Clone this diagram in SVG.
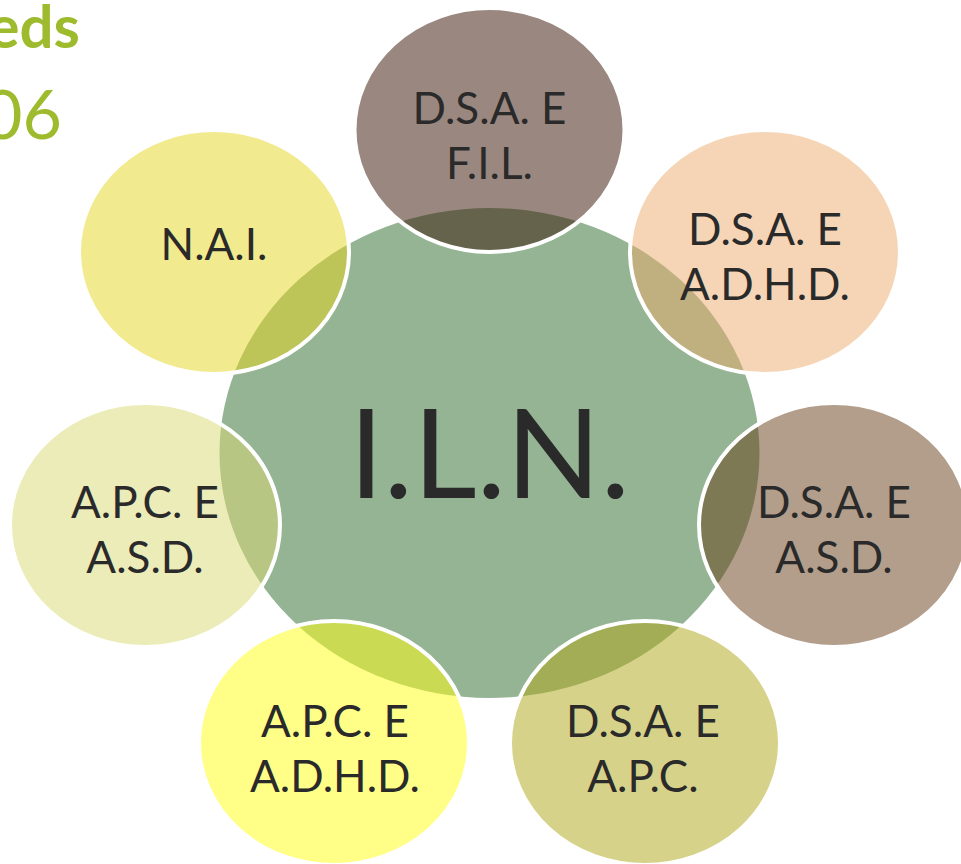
<svg xmlns="http://www.w3.org/2000/svg" width="961" height="864" viewBox="0 0 961 864">
<style>
.sat{stroke:#ffffff;stroke-width:4;fill-opacity:0.5}
.lbl{font-family:Lato,"Liberation Sans",sans-serif;font-size:44px;fill:#2a2a2a;text-anchor:middle}
.big{font-family:Lato,"Liberation Sans",sans-serif;font-size:124px;fill:#2a2a2a;text-anchor:middle}
.hd{font-family:Lato,"Liberation Sans",sans-serif;fill:#9dbb2c;text-anchor:end}
</style>
<rect width="961" height="864" fill="#ffffff"/>
<text class="hd" x="80" y="48" font-size="60" font-weight="bold">eds</text>
<text class="hd" x="62" y="139" font-size="68">06</text>
<g id="center">
<ellipse cx="489.5" cy="453" rx="270" ry="245" fill="#94b494"/>
<text class="big" x="489.5" y="498">I.L.N.</text>
</g>
<g id="dsa-fil">
<ellipse class="sat" cx="489.5" cy="130" rx="135" ry="122" fill="#351101"/>
<text class="lbl" x="489.5" y="124">D.S.A. E</text>
<text class="lbl" x="489.5" y="179">F.I.L.</text>
</g>
<g id="dsa-adhd">
<ellipse class="sat" cx="765" cy="252" rx="135" ry="122" fill="#ebab6b"/>
<text class="lbl" x="765" y="245">D.S.A. E</text>
<text class="lbl" x="765" y="300">A.D.H.D.</text>
</g>
<g id="dsa-asd">
<ellipse class="sat" cx="834" cy="525" rx="135" ry="122" fill="#653d15"/>
<text class="lbl" x="834" y="518">D.S.A. E</text>
<text class="lbl" x="834" y="573">A.S.D.</text>
</g>
<g id="dsa-apc">
<ellipse class="sat" cx="645" cy="743" rx="135" ry="122" fill="#afa515"/>
<text class="lbl" x="643" y="737">D.S.A. E</text>
<text class="lbl" x="643" y="792">A.P.C.</text>
</g>
<g id="apc-adhd">
<ellipse class="sat" cx="334" cy="743" rx="135" ry="122" fill="#ffff11"/>
<text class="lbl" x="335" y="737">A.P.C. E</text>
<text class="lbl" x="335" y="792">A.D.H.D.</text>
</g>
<g id="apc-asd">
<ellipse class="sat" cx="145" cy="525" rx="135" ry="122" fill="#d9d971"/>
<text class="lbl" x="145" y="518">A.P.C. E</text>
<text class="lbl" x="145" y="573">A.S.D.</text>
</g>
<g id="nai">
<ellipse class="sat" cx="214" cy="252" rx="135" ry="122" fill="#e5d51d"/>
<text class="lbl" x="214" y="260">N.A.I.</text>
</g>
</svg>
